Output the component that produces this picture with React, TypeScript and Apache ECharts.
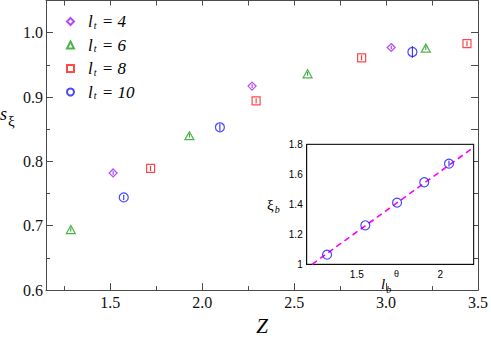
import React, { useEffect, useRef } from "react";
import * as echarts from "echarts";

// ---- main panel data: s_xi vs Z ----
const zLt4 = [1.515, 2.271, 3.028];
const sLt4 = [0.782, 0.917, 0.977];
const eLt4 = [0.003, 0.003, 0.003];

const zLt6 = [1.285, 1.93, 2.573, 3.216];
const sLt6 = [0.694, 0.84, 0.936, 0.976];
const eLt6 = [0.003, 0.003, 0.003, 0.003];

const zLt8 = [1.719, 2.293, 2.867, 3.44];
const sLt8 = [0.789, 0.894, 0.961, 0.983];
const eLt8 = [0.004, 0.004, 0.004, 0.004];

const zLt10 = [1.573, 2.096, 3.143];
const sLt10 = [0.744, 0.853, 0.97];
const eLt10 = [0.004, 0.006, 0.009];

// ---- inset data: xi_b vs l_b ----
const lb = [1.322, 1.551, 1.741, 1.904, 2.052];
const xib = [1.064, 1.26, 1.411, 1.547, 1.671];
const xibErr = [0, 0, 0, 0, 0.02];
const fitX = [1.232, 2.2];
const fitY = [1.0, 1.78];

// ---- tick values ----
const mainXMajor = [1.5, 2.0, 2.5, 3.0, 3.5];
const mainXMinor = [1.25, 1.75, 2.25, 2.75, 3.25];
const mainXAll = [1.25, 1.5, 1.75, 2.0, 2.25, 2.5, 2.75, 3.0, 3.25];
const mainYMajor = [0.6, 0.7, 0.8, 0.9, 1.0];
const mainYMinor = [0.65, 0.75, 0.85, 0.95];
const mainYAll = [0.65, 0.7, 0.75, 0.8, 0.85, 0.9, 0.95, 1.0];
const insetXTicks = [1.25, 1.5, 1.75, 2.0];
const insetXLabels = [1.5, 2.0];
const insetYTicks = [1.1, 1.2, 1.3, 1.4, 1.5, 1.6, 1.7, 1.8];
const insetYLabels = [1.0, 1.2, 1.4, 1.6, 1.8];

const legendLabels: Record<string, string> = {
  lt4: "4",
  lt6: "6",
  lt8: "8",
  lt10: "10",
};

const SERIF = "Liberation Serif, Times New Roman, DejaVu Serif, serif";
const SANS = "Liberation Sans, Arial, Helvetica, sans-serif";
const AXIS_GRAY = "#4a4a4a";

const pairs = (xs: number[], ys: number[]) => xs.map((x, i) => [x, ys[i]]);
const triples = (xs: number[], ys: number[], es: number[]) =>
  xs.map((x, i) => [x, ys[i], es[i]]);

function errBar(color: string) {
  return (params: any, api: any) => {
    const x = api.value(0);
    const y = api.value(1);
    const e = api.value(2);
    if (!e) return null;
    const a = api.coord([x, y + e]);
    const b = api.coord([x, y - e]);
    return {
      type: "line",
      shape: { x1: a[0], y1: a[1], x2: b[0], y2: b[1] },
      style: { stroke: color, lineWidth: 1 },
    };
  };
}

export default function App() {
  const ref = useRef<HTMLDivElement>(null);
  useEffect(() => {
    document.body.style.margin = "0";
    const chart = echarts.init(ref.current!, null, { renderer: "svg" });
    const PURPLE = "#a020f0";
    const GREEN = "#22a022";
    const RED = "#ff1a1a";
    const BLUE = "#1a1aff";

    const scatter = (
      name: string,
      symbol: string,
      size: any,
      color: string,
      data: number[][],
      xi = 0,
      yi = 0
    ) => ({
      name,
      type: "scatter",
      xAxisIndex: xi,
      yAxisIndex: yi,
      symbol,
      symbolSize: size,
      data,
      itemStyle: { color: "rgba(255,255,255,0)", borderColor: color, borderWidth: 1.2 },
      z: 3,
    });
    const err = (color: string, data: number[][], xi = 0, yi = 0) => ({
      type: "custom",
      xAxisIndex: xi,
      yAxisIndex: yi,
      renderItem: errBar(color),
      data,
      z: 4,
      silent: true,
    });

    const tickCommon = { inside: true, lineStyle: { color: AXIS_GRAY, width: 1 } };
    const serifRich = {
      n: { fontFamily: SERIF, fontSize: 16, color: "#111", fontStyle: "normal", fontWeight: "normal" },
    };

    chart.setOption({
      animation: false,
      textStyle: { fontFamily: SERIF },
      grid: [
        { left: 46, right: 11, top: 0.5, bottom: 39 },
        {
          left: 306.7,
          top: 144.3,
          width: 167,
          height: 120,
          show: true,
          backgroundColor: "#fff",
          borderColor: "#000",
          borderWidth: 1,
          z: 5,
        },
      ],
      legend: {
        orient: "vertical",
        left: 66,
        top: 13,
        padding: 0,
        itemWidth: 7,
        itemHeight: 7,
        itemGap: 6.5,
        selectedMode: false,
        data: ["lt4", "lt6", "lt8", "lt10"],
        formatter: (name: string) => `{a|l}{b|t}{c| = ${legendLabels[name]}}`,
        textStyle: {
          fontFamily: SERIF,
          fontStyle: "italic",
          fontSize: 17,
          rich: {
            a: { fontFamily: SERIF, fontStyle: "italic", fontSize: 17, lineHeight: 14, padding: [0, 0, 0, 9], color: "#000" },
            b: { fontFamily: SERIF, fontStyle: "italic", fontSize: 10, lineHeight: 14, padding: [7, 1, 0, 1], color: "#000" },
            c: { fontFamily: SERIF, fontStyle: "italic", fontSize: 17, lineHeight: 14, color: "#000" },
          },
        },
      },
      xAxis: [
        {
          type: "value",
          gridIndex: 0,
          position: "bottom",
          min: 1.15,
          max: 3.5,
          axisLine: { show: true, onZero: false, lineStyle: { color: AXIS_GRAY, width: 1 } },
          axisTick: { ...tickCommon, length: 7, customValues: mainXMajor },
          axisLabel: {
            fontFamily: SERIF,
            fontSize: 16,
            color: "#111",
            margin: 4,
            customValues: mainXMajor,
            formatter: (v: number) => `{n|${v.toFixed(1)}}`,
            rich: serifRich,
          },
          splitLine: { show: false },
          name: "Z",
          nameLocation: "middle",
          nameGap: 18,
          nameTextStyle: { fontFamily: SERIF, fontStyle: "italic", fontSize: 21, color: "#000" },
        },
        {
          type: "value",
          gridIndex: 0,
          position: "bottom",
          min: 1.15,
          max: 3.5,
          axisLine: { show: false, onZero: false },
          axisTick: { ...tickCommon, length: 4, customValues: mainXMinor },
          axisLabel: { show: false },
          splitLine: { show: false },
        },
        {
          type: "value",
          gridIndex: 0,
          position: "top",
          min: 1.15,
          max: 3.5,
          axisLine: { show: true, onZero: false, lineStyle: { color: AXIS_GRAY, width: 1 } },
          axisTick: { ...tickCommon, length: 5, customValues: mainXAll },
          axisLabel: { show: false },
          splitLine: { show: false },
        },
        {
          type: "value",
          gridIndex: 1,
          position: "bottom",
          min: 1.2,
          max: 2.2,
          axisLine: { show: true, onZero: false, lineStyle: { color: "#000", width: 1 } },
          axisTick: { inside: true, length: 4, customValues: insetXTicks, lineStyle: { color: "#000" } },
          axisLabel: {
            fontFamily: SANS,
            fontSize: 10,
            color: "#000",
            margin: 5,
            customValues: insetXLabels,
            formatter: (v: number) => String(Math.round(v * 10) / 10),
          },
          splitLine: { show: false },
        },
        {
          type: "value",
          gridIndex: 1,
          position: "top",
          min: 1.2,
          max: 2.2,
          axisLine: { show: true, onZero: false, lineStyle: { color: "#000", width: 1 } },
          axisTick: { inside: true, length: 4, customValues: insetXTicks, lineStyle: { color: "#000" } },
          axisLabel: { show: false },
          splitLine: { show: false },
        },
      ],
      yAxis: [
        {
          type: "value",
          gridIndex: 0,
          position: "left",
          min: 0.6,
          max: 1.05,
          axisLine: { show: true, onZero: false, lineStyle: { color: AXIS_GRAY, width: 1 } },
          axisTick: { ...tickCommon, length: 7, customValues: mainYMajor },
          axisLabel: {
            fontFamily: SERIF,
            fontSize: 16,
            color: "#111",
            margin: 3,
            customValues: mainYMajor,
            formatter: (v: number) => `{n|${v.toFixed(1)}}`,
            rich: serifRich,
          },
          splitLine: { show: false },
        },
        {
          type: "value",
          gridIndex: 0,
          position: "left",
          min: 0.6,
          max: 1.05,
          axisLine: { show: false, onZero: false },
          axisTick: { ...tickCommon, length: 4, customValues: mainYMinor },
          axisLabel: { show: false },
          splitLine: { show: false },
        },
        {
          type: "value",
          gridIndex: 0,
          position: "right",
          min: 0.6,
          max: 1.05,
          axisLine: { show: true, onZero: false, lineStyle: { color: AXIS_GRAY, width: 1 } },
          axisTick: { ...tickCommon, length: 7, customValues: mainYAll },
          axisLabel: { show: false },
          splitLine: { show: false },
        },
        {
          type: "value",
          gridIndex: 1,
          position: "left",
          min: 1.0,
          max: 1.8,
          axisLine: { show: true, onZero: false, lineStyle: { color: "#000", width: 1 } },
          axisTick: { inside: true, length: 4, customValues: insetYTicks, lineStyle: { color: "#000" } },
          axisLabel: {
            fontFamily: SANS,
            fontSize: 10,
            color: "#000",
            margin: 4,
            customValues: insetYLabels,
            formatter: (v: number) => String(Math.round(v * 10) / 10),
          },
          splitLine: { show: false },
        },
        {
          type: "value",
          gridIndex: 1,
          position: "right",
          min: 1.0,
          max: 1.8,
          axisLine: { show: true, onZero: false, lineStyle: { color: "#000", width: 1 } },
          axisTick: { inside: true, length: 4, customValues: insetYTicks, lineStyle: { color: "#000" } },
          axisLabel: { show: false },
          splitLine: { show: false },
        },
      ],
      graphic: [
        {
          type: "text",
          x: 0,
          y: 106,
          style: {
            text: "{s|s}{x|ξ}",
            rich: {
              s: { font: `italic 18px ${SERIF}`, fill: "#000", lineHeight: 16, padding: [0, 1, 0, 0] },
              x: { font: `15px ${SERIF}`, fill: "#000", lineHeight: 16, padding: [13, 0, 0, 0] },
            },
          },
        },
        {
          type: "text",
          x: 267,
          y: 197,
          z: 20,
          style: {
            text: "{x|ξ}{b|b}",
            rich: {
              x: { font: `15px ${SERIF}`, fill: "#000", lineHeight: 16 },
              b: { font: `italic 10px ${SERIF}`, fill: "#000", lineHeight: 16, padding: [9, 0, 0, 1] },
            },
          },
        },
        {
          type: "text",
          x: 381,
          y: 276,
          z: 20,
          style: {
            text: "{l|l}{b|b}",
            rich: {
              l: { font: `italic 15px ${SERIF}`, fill: "#000", lineHeight: 16 },
              b: { font: `italic 10px ${SERIF}`, fill: "#000", lineHeight: 16, padding: [10, 0, 0, 1] },
            },
          },
        },
        { type: "text", x: 394, y: 269, z: 20, style: { text: "θ", font: `9px ${SANS}`, fill: "#000" } },
      ],
      series: [
        scatter("lt4", "diamond", [8, 8], PURPLE, pairs(zLt4, sLt4)),
        scatter("lt6", "triangle", [9, 8], GREEN, pairs(zLt6, sLt6)),
        scatter("lt8", "rect", [8, 8], RED, pairs(zLt8, sLt8)),
        scatter("lt10", "circle", 9, BLUE, pairs(zLt10, sLt10)),
        err(PURPLE, triples(zLt4, sLt4, eLt4)),
        err(GREEN, triples(zLt6, sLt6, eLt6)),
        err(RED, triples(zLt8, sLt8, eLt8)),
        err(BLUE, triples(zLt10, sLt10, eLt10)),
        {
          name: "fit",
          type: "line",
          xAxisIndex: 3,
          yAxisIndex: 3,
          data: pairs(fitX, fitY),
          symbol: "none",
          lineStyle: { color: "#ff00ff", width: 1.6, type: [6, 4] },
          z: 10,
        },
        { ...scatter("inset", "circle", 9, BLUE, pairs(lb, xib), 3, 3), z: 11 },
        { ...err(BLUE, triples(lb, xib, xibErr), 3, 3), z: 12 },
      ],
    });
    return () => chart.dispose();
  }, []);
  return <div ref={ref} style={{ width: 491, height: 341 }} />;
}
